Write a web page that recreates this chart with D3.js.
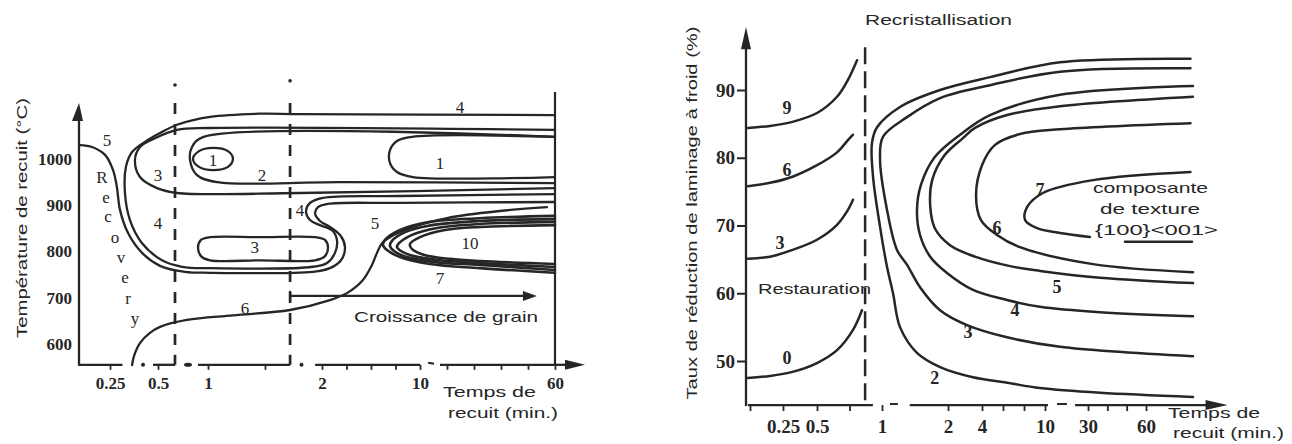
<!DOCTYPE html>
<html><head><meta charset="utf-8">
<script src="https://cdn.jsdelivr.net/npm/d3@7"></script>
<style>body{margin:0;background:#fff}svg{display:block}</style>
</head><body>
<svg id="c" width="1292" height="444"></svg>
<script>
// ---------------- LEFT PANEL DATA (time in min, temperature in °C) ----------------
const leftTempTicks = [600, 700, 800, 900, 1000];
const leftTimeTicks = [0.25, 0.5, 1, 1.5, 2, 4, 6, 8, 10, 20, 30, 40, 50, 60];
const leftTimeLabelValues = [0.25, 0.5, 1, 2, 10, 60];
const leftAxisSegments = [[0.15, 0.315], [0.474, 0.67], [0.9, 1.72], [1.94, 10], [17.4, 60]];
const leftAxisDots = [0.422, 0.8, 1.82];
const leftAxisDashes = [[13, 15.2]];
const leftPhaseBoundaries = [0.67, 1.72];
const grainGrowthArrow = [1.72, 53.3, 704];

const leftCurve5 = [[0.153,1030],[0.192,1026],[0.234,1009],[0.266,976],[0.286,939],[0.302,890],[0.344,840],[0.417,797],[0.52,769],[0.77,756],[1.018,754],[1.921,756],[2.65,764],[3.55,781],[3.88,808],[3.55,833],[2.65,853],[1.982,866],[1.939,883],[1.965,896],[2.49,903],[8.37,905],[60,907]];
const leftCurve4 = [[60,1095],[1.807,1097],[1.456,1098],[1.018,1091],[0.69,1074],[0.52,1056],[0.432,1037],[0.365,1015],[0.333,983],[0.328,926],[0.354,868],[0.417,818],[0.54,781],[0.74,767],[1.018,764],[1.921,767],[2.41,775],[3.06,797],[3.22,825],[2.82,846],[1.982,857],[1.895,868],[1.86,888],[1.895,905],[2.08,916],[8.37,920],[60,924]];
const leftCurve3 = [[60,1063],[1.018,1067],[0.69,1063],[0.484,1045],[0.406,1026],[0.38,998],[0.406,961],[0.495,937],[0.69,926.5],[1.807,926.5],[60,937]];
const leftCurve2 = [[60,1048],[0.955,1048],[0.84,1026],[0.82,998],[0.89,965],[1.079,950],[3.47,950],[60,948]];
const leftCurve1Loop = [[0.85,1000],[0.91,1017],[1.044,1024],[1.175,1017],[1.219,1000],[1.175,983],[1.044,976],[0.91,983]];
const leftCurve1Right = [[60,1048],[9.35,1048],[8.12,1039],[7.55,1019],[7.55,991],[8.12,972],[9.43,961],[60,961]];
const leftPill3 = [[1.018,831],[1.456,831],[1.939,831],[2.245,825],[2.49,808],[2.245,790],[1.939,781],[1.456,781],[1.018,781],[0.93,790],[0.9,808],[0.93,825]];
const leftCurve6 = [[0.365,554.6],[0.375,574],[0.406,602],[0.458,624],[0.52,637],[0.79,652],[1.219,662],[1.719,673.5],[2.65,695],[4.04,710],[5.27,736],[6.08,771],[6.49,797],[6.9,818],[7.55,831],[9.43,853],[20,872.4],[39.6,887.6],[57,896]];
const leftNest7 = [[60,877],[32.2,872],[13.7,864],[8.37,846.5],[7.14,825],[6.98,814],[7.31,803],[8.37,788],[13.7,773],[32.2,764],[60,754]];
const leftNest8 = [[60,870],[32.2,866],[14.4,857],[8.78,842],[7.71,823],[7.55,812],[7.88,801],[8.94,788],[15.6,777],[32.2,771],[60,760]];
const leftNest9 = [[60,864],[32.2,859.5],[16.3,851],[9.35,836],[8.29,818],[8.12,810],[8.45,801],[9.51,790],[17.4,781],[32.2,775],[60,766.5]];
const leftNest10 = [[60,857],[32.2,853],[19.3,846.5],[10,831],[9.18,816],[9.35,805],[11.9,792],[21.1,784],[32.2,779.5],[60,773]];
const leftLabels = [[0.24,1042,"5"],[0.5,965,"3"],[0.5,862,"4"],[24.8,1112,"4"],[1.474,965,"2"],[1.044,998,"1"],[17.4,991,"1"],[1.807,890,"4"],[6.33,862,"5"],[28.5,818,"10"],[17.4,743,"7"],[1.325,678,"6"],[1.41,810,"3"]];

// ---------------- RIGHT PANEL DATA (time in min, reduction %) ----------------
const rightPctTicks = [50, 60, 70, 80, 90];
const rightTimeTicks = [0.125, 0.25, 0.5, 0.75, 1, 2, 4, 6, 8, 10, 30, 40, 50, 60];
const rightTimeLabelValues = [0.25, 0.5, 1, 2, 4, 10, 30, 60];
const rightAxisSegments = [[0.117, 0.93], [1.42, 11.4], [24, 97]];
const rightAxisDashes = [[1.12, 1.24], [15.6, 20.2]];
const rightPhaseBoundary = [0.87];

const rest9 = [[0.117,84.4],[0.201,84.7],[0.32,85.3],[0.5,86.6],[0.654,89.0],[0.738,91.5],[0.808,94.4]];
const rest6 = [[0.117,75.8],[0.201,76.3],[0.32,77.2],[0.5,78.9],[0.654,80.8],[0.738,82.6],[0.777,83.4]];
const rest3 = [[0.117,65.1],[0.201,65.4],[0.32,66.4],[0.5,67.9],[0.654,70.1],[0.738,72.3],[0.777,73.8]];
const rest0 = [[0.117,47.5],[0.201,47.8],[0.32,48.4],[0.5,49.7],[0.654,51.6],[0.777,54.6],[0.846,57.5]];
const rec2 = [[83,94.6],[17,94.1],[4.76,91.9],[1.88,90],[1.273,87.5],[0.962,84.5],[0.923,82.2],[0.931,77.2],[0.985,69.8],[1.076,63.9],[1.167,60.0],[1.273,55.0],[1.53,51.2],[1.88,49.1],[3.47,47.6],[6.38,46.8],[9.52,46.0],[36.2,45.3],[84.3,44.7]];
const rec3 = [[83,93.2],[17,92.7],[4.76,90.7],[1.88,88.8],[1.38,86.0],[1.015,83.1],[0.985,79.7],[1.076,72.3],[1.227,66.4],[1.38,64.2],[1.576,60.9],[1.88,57.5],[3.12,55.3],[6.38,53.5],[17,52.1],[84.3,50.7]];
const rec4 = [[84.3,90.6],[17,89.3],[4.76,86.3],[2.71,83.4],[1.80,80.1],[1.59,76.0],[1.53,72.3],[1.576,68.6],[1.73,65.4],[1.985,63.0],[3.47,60.5],[6.38,59.0],[9.52,58.0],[36.2,57.2],[84.3,56.6]];
const rec5 = [[84.3,89.0],[17,87.6],[6.38,86.3],[3.59,84.4],[2.88,82.9],[1.95,80.4],[1.76,76.7],[1.73,73.0],[1.80,69.6],[2.12,67.1],[3.59,65.4],[6.67,64.0],[9.52,63.3],[36.2,62.3],[84.3,61.5]];
const rec6 = [[83,85.1],[17,84.2],[7.62,83.5],[5.24,81.9],[4.0,78.9],[3.65,74.5],[3.94,70.8],[5.43,68.6],[7.62,66.8],[32.6,64.3],[84.3,63.1]];
const rec7a = [[83,77.9],[32.6,76.7],[9.8,74.8],[8.29,72.7],[8.1,70.8],[9.24,69.6],[17,68.9],[31,68.3]];
const rec7b = [[49.1,67.6],[83.8,67.6]];
const rightLabels = [[0.279,87.3,"9"],[0.279,78.2,"6"],[0.239,67.4,"3"],[0.279,50.4,"0"],[1.80,47.5,"2"],[3.18,54.3,"3"],[7.14,57.5,"4"],[15.6,60.9,"5"],[5.43,69.6,"6"],[9.52,75.2,"7"]];

// ---------------- DRAWING ----------------
const svg = d3.select("#c");
const ink = "#262626";
const serif = "'Liberation Serif', 'DejaVu Serif', serif";
const sans = "'Liberation Sans', Arial, sans-serif";

function drawCurve(pts, xs, ys, closed, w) {
  const gen = d3.line().x(d => xs(d[0])).y(d => ys(d[1]))
    .curve(closed ? d3.curveCatmullRomClosed.alpha(0.5) : d3.curveCatmullRom.alpha(0.5));
  svg.append("path").attr("d", gen(pts)).attr("fill", "none")
    .attr("stroke", ink).attr("stroke-width", w || 2.3).attr("stroke-linecap", "round").attr("stroke-linejoin", "round");
}
function seg(x1, y1, x2, y2, w, dash) {
  const l = svg.append("line").attr("x1", x1).attr("y1", y1).attr("x2", x2).attr("y2", y2)
    .attr("stroke", ink).attr("stroke-width", w || 2.2);
  if (dash) l.attr("stroke-dasharray", dash);
  return l;
}
function txt(x, y, s, size, font, opts) {
  opts = opts || {};
  const t = svg.append("text").attr("x", x).attr("y", y).text(s)
    .attr("font-size", size).attr("font-family", font).attr("fill", ink)
    .attr("text-anchor", opts.anchor || "start");
  if (opts.weight) t.attr("font-weight", opts.weight);
  if (opts.len) t.attr("textLength", opts.len).attr("lengthAdjust", "spacingAndGlyphs");
  if (opts.rot) t.attr("transform", `rotate(-90,${x},${y})`);
  return t;
}

// ===== LEFT =====
const xL = d3.scaleLinear().domain([0.15, 0.25, 0.5, 1, 2, 10, 60]).range([79, 110, 158, 208, 322, 420, 555]);
const yL = d3.scaleLinear().domain([600, 1000]).range([344, 159]);
const tMinL = 555, tTopL = 1121;
const axYL = yL(tMinL);

seg(xL(0.15), axYL + 1, xL(0.15), yL(1108), 2.3);
svg.append("path").attr("d", `M${xL(0.15)},${yL(tTopL)} L${xL(0.15) - 7},${yL(1082)} L${xL(0.15) + 4},${yL(1082)} Z`).attr("fill", ink);
const gyL = svg.append("g").attr("transform", `translate(${xL(0.15)},0)`)
  .call(d3.axisLeft(yL).tickValues(leftTempTicks).tickSize(0).tickPadding(7).tickFormat(d3.format("d")));
gyL.select(".domain").remove();
gyL.selectAll("text").attr("font-size", 17).attr("font-family", serif).attr("fill", ink).attr("font-weight", "bold");

leftAxisSegments.forEach(s => seg(xL(s[0]), axYL, xL(s[1]), axYL, 2.3));
leftAxisDots.forEach(d => svg.append("ellipse").attr("cx", xL(d)).attr("cy", axYL).attr("rx", d === 0.8 ? 4 : 2).attr("ry", 2).attr("fill", ink));
leftAxisDashes.forEach(s => seg(xL(s[0]), axYL - 2, xL(s[1]), axYL - 1, 2));
seg(xL(60), axYL, xL(60) + 14, axYL, 2.3);
svg.append("path").attr("d", `M${xL(60) + 30},${axYL} L${xL(60) + 10},${axYL - 5} L${xL(60) + 10},${axYL + 5} Z`).attr("fill", ink);
const gxL = svg.append("g").attr("transform", `translate(0,${axYL})`)
  .call(d3.axisBottom(xL).tickValues(leftTimeTicks).tickSize(5).tickPadding(7)
    .tickFormat(d => leftTimeLabelValues.includes(d) ? String(d) : ""));
gxL.select(".domain").remove();
gxL.selectAll("line").attr("stroke", ink).attr("stroke-width", 1.8);
gxL.selectAll("text").attr("font-size", 17).attr("font-family", serif).attr("fill", ink).attr("font-weight", "bold");

seg(xL(60), axYL, xL(60), yL(1145), 2.2);

leftPhaseBoundaries.forEach((t, i) => {
  seg(xL(t), yL(1121), xL(t), axYL - 10, 2.7, "11,10");
  seg(xL(t), axYL - 10, xL(t), axYL, 2.7);
  svg.append("circle").attr("cx", xL(t)).attr("cy", yL(i === 0 ? 1160 : 1169)).attr("r", 1.8).attr("fill", ink);
});

[leftCurve5, leftCurve4, leftCurve3, leftCurve2, leftCurve1Right, leftCurve6, leftNest7, leftNest8, leftNest9, leftNest10]
  .forEach((c, i) => drawCurve(c, xL, yL, false, i >= 6 ? 2.6 : 2.3));
drawCurve(leftCurve1Loop, xL, yL, true);
drawCurve(leftPill3, xL, yL, true);

seg(xL(grainGrowthArrow[0]), yL(grainGrowthArrow[2]), xL(grainGrowthArrow[1]) - 8, yL(grainGrowthArrow[2]), 2.2);
seg(xL(grainGrowthArrow[0]), yL(grainGrowthArrow[2]) - 5, xL(grainGrowthArrow[0]), yL(grainGrowthArrow[2]) + 5, 2.2);
svg.append("path").attr("d", `M${xL(grainGrowthArrow[1])},${yL(grainGrowthArrow[2])} L${xL(grainGrowthArrow[1]) - 14},${yL(grainGrowthArrow[2]) - 5} L${xL(grainGrowthArrow[1]) - 14},${yL(grainGrowthArrow[2]) + 5} Z`).attr("fill", ink);
txt(354, 322, "Croissance de grain", 15, sans, { len: 184 });

leftLabels.forEach(l => txt(xL(l[0]), yL(l[1]) + 6, l[2], 17, serif, { anchor: "middle" }));
const recov = [["R", 102, 183], ["e", 106, 203], ["c", 108, 222], ["o", 115, 243], ["v", 121, 263], ["e", 125, 283], ["r", 128, 304], ["y", 135, 324]];
recov.forEach(r => txt(r[1], r[2], r[0], 17, serif, { anchor: "middle" }));

txt(27, 218, "Température de recuit (°C)", 15, sans, { anchor: "middle", rot: true, len: 240 });
txt(443, 397, "Temps de", 15, sans, { len: 93 });
txt(448, 418, "recuit (min.)", 15, sans, { len: 110 });

// ===== RIGHT =====
const xR = d3.scaleLinear().domain([0.125, 0.25, 0.5, 1, 2, 4, 10, 30, 60]).range([750, 783, 817, 882, 948, 982, 1045, 1088, 1146]);
const yR = d3.scaleLinear().domain([50, 90]).range([361, 90]);
const pMinR = 43.5;
const axYR = yR(pMinR);
const axXR = 746;

seg(axXR, axYR + 1, axXR, yR(97), 2.3);
svg.append("path").attr("d", `M${axXR},${yR(99.3)} L${axXR - 5},${yR(96)} L${axXR + 5},${yR(96)} Z`).attr("fill", ink);
const gyR = svg.append("g").attr("transform", `translate(${axXR},0)`)
  .call(d3.axisLeft(yR).tickValues(rightPctTicks).tickSize(9).tickPadding(2).tickFormat(d3.format("d")));
gyR.select(".domain").remove();
gyR.selectAll("line").attr("stroke", ink).attr("stroke-width", 2);
gyR.selectAll("text").attr("font-size", 19).attr("font-family", serif).attr("fill", ink).attr("font-weight", "bold");

rightAxisSegments.forEach(s => seg(xR(s[0]), axYR, xR(s[1]), axYR, 2.3));
rightAxisDashes.forEach(s => seg(xR(s[0]), axYR - 1, xR(s[1]), axYR - 1, 2));
svg.append("path").attr("d", `M${xR(97) + 10},${axYR} L${xR(97) - 12},${axYR - 5} L${xR(97) - 12},${axYR + 5} Z`).attr("fill", ink);
const gxR = svg.append("g").attr("transform", `translate(0,${axYR})`)
  .call(d3.axisBottom(xR).tickValues(rightTimeTicks).tickSize(6).tickPadding(8)
    .tickFormat(d => rightTimeLabelValues.includes(d) ? String(d) : ""));
gxR.select(".domain").remove();
gxR.selectAll("line").attr("stroke", ink).attr("stroke-width", 1.8);
gxR.selectAll("text").attr("font-size", 19).attr("font-family", serif).attr("fill", ink).attr("font-weight", "bold");

seg(xR(rightPhaseBoundary[0]), yR(96.3), xR(rightPhaseBoundary[0]), axYR, 2.5, "17,7");

[rest9, rest6, rest3, rest0, rec2, rec3, rec4, rec5, rec6, rec7a, rec7b].forEach(c => drawCurve(c, xR, yR, false, 2.5));

rightLabels.forEach(l => txt(xR(l[0]), yR(l[1]) + 6, l[2], 18, serif, { anchor: "middle", weight: "bold" }));

txt(865, 25, "Recristallisation", 14, sans, { len: 147 });
txt(697, 213, "Taux de réduction de laminage à froid (%)", 15, sans, { anchor: "middle", rot: true, len: 373 });
txt(758, 294, "Restauration", 14, sans, { len: 113 });
txt(1093, 193, "composante", 15, sans, { len: 115 });
txt(1100, 214, "de texture", 15, sans, { len: 100 });
txt(1095, 235, "{100}<001>", 15, sans, { len: 123 });
txt(1168, 418, "Temps de", 15, sans, { len: 92 });
txt(1173, 438, "recuit (min.)", 15, sans, { len: 111 });
</script>
</body></html>
